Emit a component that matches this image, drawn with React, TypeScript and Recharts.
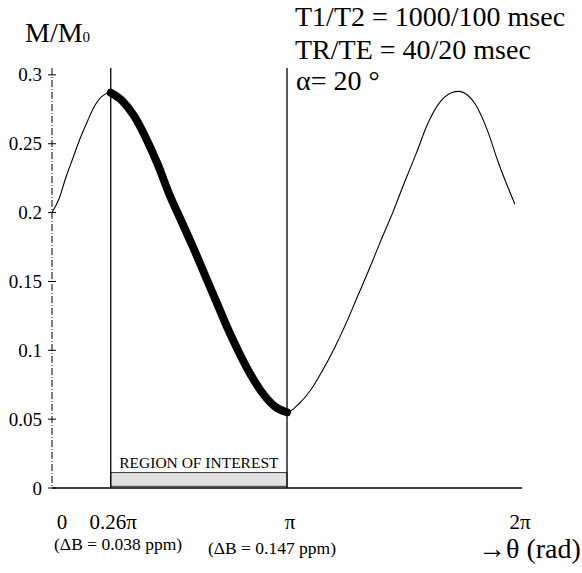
import React from "react";
import { LineChart, Line, XAxis, YAxis, ReferenceLine, ReferenceArea } from "recharts";

// theta in units of pi
const thinTheta = [0, 0.03, 0.06, 0.09, 0.12, 0.15, 0.18, 0.21, 0.25, 0.3, 0.35, 0.4, 0.45, 0.5, 0.55, 0.6, 0.65, 0.7, 0.75, 0.8, 0.85, 0.9, 0.95, 1.0, 1.05, 1.1, 1.15, 1.2, 1.25, 1.3, 1.35, 1.4, 1.45, 1.5, 1.55, 1.6, 1.65, 1.7, 1.73, 1.77, 1.8, 1.85, 1.9, 1.97];
const thinM = [0.2, 0.21, 0.226, 0.24, 0.254, 0.266, 0.277, 0.284, 0.287, 0.281, 0.27, 0.254, 0.235, 0.213, 0.194, 0.175, 0.155, 0.135, 0.115, 0.097, 0.081, 0.068, 0.059, 0.055, 0.061, 0.071, 0.085, 0.101, 0.119, 0.139, 0.159, 0.18, 0.2, 0.222, 0.243, 0.265, 0.28, 0.287, 0.288, 0.285, 0.279, 0.261, 0.236, 0.206];

const thickTheta = [0.25, 0.3, 0.35, 0.4, 0.45, 0.5, 0.55, 0.6, 0.65, 0.7, 0.75, 0.8, 0.85, 0.9, 0.95, 1.0];
const thickM = [0.287, 0.281, 0.27, 0.254, 0.235, 0.213, 0.194, 0.175, 0.155, 0.135, 0.115, 0.097, 0.081, 0.068, 0.059, 0.055];

const yTicks = [0, 0.05, 0.1, 0.15, 0.2, 0.25, 0.3];
const yTickLabels = ["0", "0.05", "0.1", "0.15", "0.2", "0.25", "0.3"];

const xTicks = [0, 0.26, 1, 2];
const xTickLabels = ["0", "0.26\u03c0", "\u03c0", "2\u03c0"];
const xSubLabels = ["", "(\u0394B = 0.038 ppm)", "(\u0394B = 0.147 ppm)", ""];

const roiStart = 0.25;
const roiEnd = 1;

const thinData = thinTheta.map((t, i) => ({ t, m: thinM[i] }));
const thickData = thickTheta.map((t, i) => ({ t, m: thickM[i] }));

const FONT = "Liberation Serif, Times New Roman, serif";

const YTick = (props: any) => {
  const { x, y, index } = props;
  return (
    <g>
      <line x1={x - 4} x2={x + 4} y1={y} y2={y} stroke="#000" strokeWidth={1} />
      <text x={x - 10} y={y} textAnchor="end" dominantBaseline="central" style={{ fontFamily: FONT }} fontSize={19} fill="#000">
        {yTickLabels[index]}
      </text>
    </g>
  );
};

const xDx = [10, 0, 3, -2];
const subDx = [0, 5, -15, 0];
const subDy = [0, 62, 66, 0];

const XTick = (props: any) => {
  const { x, y, index } = props;
  return (
    <g>
      <text x={x + xDx[index]} y={y + 41} textAnchor="middle" style={{ fontFamily: FONT }} fontSize={21} fill="#000">
        {xTickLabels[index]}
      </text>
      {xSubLabels[index] ? (
        <text x={x + subDx[index]} y={y + subDy[index]} textAnchor="middle" style={{ fontFamily: FONT }} fontSize={17.5} fill="#000">
          {xSubLabels[index]}
        </text>
      ) : null}
    </g>
  );
};

export default function App() {
  return (
    <div style={{ position: "absolute", left: 0, top: 0, width: 582, height: 573, background: "#fff" }}>
      <LineChart width={582} height={573} margin={{ top: 68, right: 60, bottom: 0, left: 0 }}>
        <XAxis
          type="number"
          dataKey="t"
          domain={[0, 2]}
          ticks={xTicks}
          allowDuplicatedCategory={false}
          height={85}
          tickSize={0}
          tickMargin={0}
          tickLine={false}
          tick={<XTick />}
          axisLine={{ stroke: "#000", strokeWidth: 1.3 }}
        />
        <YAxis
          type="number"
          domain={[0, 0.305]}
          ticks={yTicks}
          width={52}
          tickSize={0}
          tickMargin={0}
          tickLine={false}
          tick={<YTick />}
          axisLine={{ stroke: "#000", strokeWidth: 1, strokeDasharray: "7 2 1 2" }}
        />
        <ReferenceArea x1={roiStart} x2={roiEnd} y1={0.0012} y2={0.0112} fill="#e2e2e2" fillOpacity={1} stroke="#222" strokeWidth={0.9} />
        <ReferenceArea
          x1={roiStart}
          x2={roiEnd}
          y1={0.0112}
          y2={0.0265}
          fillOpacity={0}
          stroke="none"
          label={{ value: "REGION OF INTEREST", position: "center", fontFamily: FONT, fontSize: 15.5, fill: "#000" }}
        />
        <ReferenceLine x={roiStart} stroke="#000" strokeWidth={1.3} />
        <ReferenceLine x={roiEnd} stroke="#000" strokeWidth={1.3} />
        <Line data={thinData} dataKey="m" type="monotone" stroke="#000" strokeWidth={1.1} dot={false} isAnimationActive={false} />
        <Line data={thickData} dataKey="m" type="monotone" stroke="#000" strokeWidth={8} strokeLinecap="round" dot={false} isAnimationActive={false} />
      </LineChart>
      <svg width={582} height={573} style={{ position: "absolute", left: 0, top: 0, pointerEvents: "none", fontFamily: FONT }}>
        <text x={25} y={42} fontSize={28} fill="#000">
          M/M<tspan fontSize={15}>0</tspan>
        </text>
        <text x={295} y={26} fontSize={28} fill="#000">T1/T2 = 1000/100 msec</text>
        <text x={295} y={59} fontSize={28} fill="#000">TR/TE = 40/20 msec</text>
        <text x={296} y={90} fontSize={28} fill="#000">{"\u03b1= 20 \u00b0"}</text>
        <text x={478} y={558} fontSize={28} fill="#000">{"\u2192\u03b8 (rad)"}</text>
      </svg>
    </div>
  );
}
